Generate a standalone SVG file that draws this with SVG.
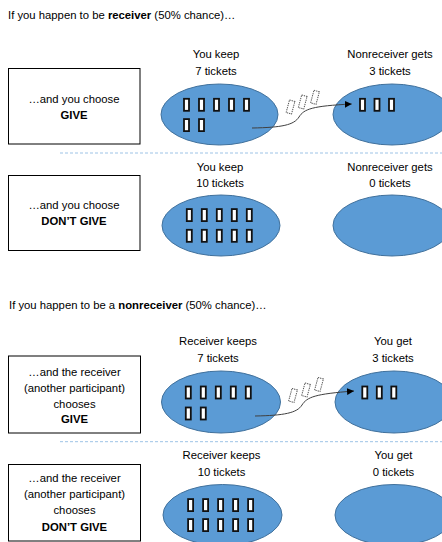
<svg xmlns="http://www.w3.org/2000/svg" width="442" height="542" viewBox="0 0 442 542">
<defs>
<style>
text{font-family:"Liberation Sans",Arial,sans-serif;font-size:11.3px;fill:#000}
.c{text-anchor:middle}
.b{font-weight:bold}
.box{fill:#fff;stroke:#000;stroke-width:1}
.ell{fill:#5B9BD5;stroke:#41719C;stroke-width:1}
.t{fill:#fff;stroke:#111;stroke-width:1.8}
.d{fill:#fff;stroke:#555;stroke-width:1;stroke-dasharray:1.3 0.9}
.sep{stroke:#9DC3E6;stroke-width:1;stroke-dasharray:3 2;fill:none}
.arr{fill:none;stroke:#404040;stroke-width:1}
</style>
<marker id="ah" markerUnits="userSpaceOnUse" markerWidth="7" markerHeight="7" refX="7" refY="3.5" orient="auto">
<path d="M0,0 L7,3.5 L0,7 z" fill="#000"/>
</marker>
<rect id="tk" width="5" height="12" class="t"/>
<rect id="dt" x="-2.8" y="-6.5" width="5.6" height="13" class="d"/>
</defs>

<text x="8" y="19">If you happen to be <tspan class="b">receiver</tspan> (50% chance)…</text>
<text x="9" y="309">If you happen to be a <tspan class="b">nonreceiver</tspan> (50% chance)…</text>

<g id="sep-lines">
<line class="sep" x1="60" y1="153" x2="442" y2="153"/>
<line class="sep" x1="60" y1="441.7" x2="442" y2="441.7"/>
</g>

<!-- Section 1 -->
<g id="box1">
<rect class="box" x="8.5" y="68.5" width="131.5" height="75.5"/>
<text class="c" x="74" y="102.5">…and you choose</text>
<text class="c b" x="74" y="118.5">GIVE</text>
</g>
<g id="keep1">
<text class="c" x="216" y="58">You keep</text>
<text class="c" x="216" y="74.5">7 tickets</text>
<ellipse class="ell" cx="219.5" cy="114.5" rx="58.5" ry="30.5"/>
<use href="#tk" x="184" y="98.8"/><use href="#tk" x="199" y="98.8"/><use href="#tk" x="214" y="98.8"/><use href="#tk" x="229" y="98.8"/><use href="#tk" x="244" y="98.8"/>
<use href="#tk" x="184" y="119.1"/><use href="#tk" x="199" y="119.1"/>
</g>
<g id="gets1">
<text class="c" x="390" y="58">Nonreceiver gets</text>
<text class="c" x="390" y="74.5">3 tickets</text>
<ellipse class="ell" cx="392" cy="114.5" rx="59" ry="30.5"/>
<use href="#tk" x="360" y="98.8"/><use href="#tk" x="374.5" y="98.8"/><use href="#tk" x="389" y="98.8"/>
</g>
<g id="moving1">
<use href="#dt" transform="translate(290.5 107) rotate(15)"/>
<use href="#dt" transform="translate(302.7 102) rotate(15)"/>
<use href="#dt" transform="translate(315 97.3) rotate(15)"/>
</g>

<!-- Section 2 -->
<g id="box2">
<rect class="box" x="8.5" y="175.5" width="131.5" height="75"/>
<text class="c" x="74" y="208.5">…and you choose</text>
<text class="c b" x="74" y="224.5">DON’T GIVE</text>
</g>
<g id="keep2">
<text class="c" x="220" y="170.5">You keep</text>
<text class="c" x="220" y="186.7">10 tickets</text>
<ellipse class="ell" cx="221" cy="225.5" rx="59" ry="30.5"/>
<use href="#tk" x="186.8" y="209.1"/><use href="#tk" x="201.8" y="209.1"/><use href="#tk" x="216.8" y="209.1"/><use href="#tk" x="231.8" y="209.1"/><use href="#tk" x="246.8" y="209.1"/>
<use href="#tk" x="186.8" y="229.8"/><use href="#tk" x="201.8" y="229.8"/><use href="#tk" x="216.8" y="229.8"/><use href="#tk" x="231.8" y="229.8"/><use href="#tk" x="246.8" y="229.8"/>
</g>
<g id="gets2">
<text class="c" x="390" y="170.5">Nonreceiver gets</text>
<text class="c" x="390" y="186.7">0 tickets</text>
<ellipse class="ell" cx="392" cy="225.5" rx="59" ry="30.5"/>
</g>

<!-- Section 3 -->
<g id="box3">
<rect class="box" x="8.5" y="356" width="132" height="77"/>
<text class="c" x="74.5" y="376">…and the receiver</text>
<text class="c" x="74.5" y="392">(another participant)</text>
<text class="c" x="74.5" y="407.5">chooses</text>
<text class="c b" x="74.5" y="423">GIVE</text>
</g>
<g id="keep3">
<text class="c" x="218" y="345">Receiver keeps</text>
<text class="c" x="218" y="361.5">7 tickets</text>
<ellipse class="ell" cx="221" cy="402" rx="59.5" ry="31"/>
<use href="#tk" x="185.8" y="386.5"/><use href="#tk" x="200.8" y="386.5"/><use href="#tk" x="215.8" y="386.5"/><use href="#tk" x="230.8" y="386.5"/><use href="#tk" x="245.8" y="386.5"/>
<use href="#tk" x="185.8" y="407.5"/><use href="#tk" x="200.8" y="407.5"/>
</g>
<g id="gets3">
<text class="c" x="393" y="345">You get</text>
<text class="c" x="393" y="361.5">3 tickets</text>
<ellipse class="ell" cx="394" cy="402" rx="59" ry="31"/>
<use href="#tk" x="362.3" y="386.5"/><use href="#tk" x="376.8" y="386.5"/><use href="#tk" x="391.3" y="386.5"/>
</g>
<g id="moving3">
<use href="#dt" transform="translate(293 395.5) rotate(15)"/>
<use href="#dt" transform="translate(306 390) rotate(15)"/>
<use href="#dt" transform="translate(319 384.5) rotate(15)"/>
</g>

<!-- Section 4 -->
<g id="box4">
<rect class="box" x="8.5" y="464.5" width="132" height="76.5"/>
<text class="c" x="74.5" y="481.5">…and the receiver</text>
<text class="c" x="74.5" y="497.5">(another participant)</text>
<text class="c" x="74.5" y="514">chooses</text>
<text class="c b" x="74.5" y="531">DON’T GIVE</text>
</g>
<g id="keep4">
<text class="c" x="221.5" y="459">Receiver keeps</text>
<text class="c" x="221.5" y="475.5">10 tickets</text>
<ellipse class="ell" cx="222.5" cy="515" rx="59.5" ry="30.5"/>
<use href="#tk" x="188.1" y="499.1"/><use href="#tk" x="203.1" y="499.1"/><use href="#tk" x="218.1" y="499.1"/><use href="#tk" x="233.1" y="499.1"/><use href="#tk" x="248.1" y="499.1"/>
<use href="#tk" x="188.1" y="519.1"/><use href="#tk" x="203.1" y="519.1"/><use href="#tk" x="218.1" y="519.1"/><use href="#tk" x="233.1" y="519.1"/><use href="#tk" x="248.1" y="519.1"/>
</g>
<g id="gets4">
<text class="c" x="393.5" y="459">You get</text>
<text class="c" x="393.5" y="475.5">0 tickets</text>
<ellipse class="ell" cx="394" cy="515" rx="59" ry="30.5"/>
</g>

<g id="connectors">
<path class="arr" marker-end="url(#ah)" d="M252,128 C282,127.5 294,125 299,117 C304,109 312,106 351.7,104"/>
<path class="arr" marker-end="url(#ah)" d="M255,416 C284,415.5 297,413 302,405 C307,397 315,394 354,391"/>
</g>
</svg>
